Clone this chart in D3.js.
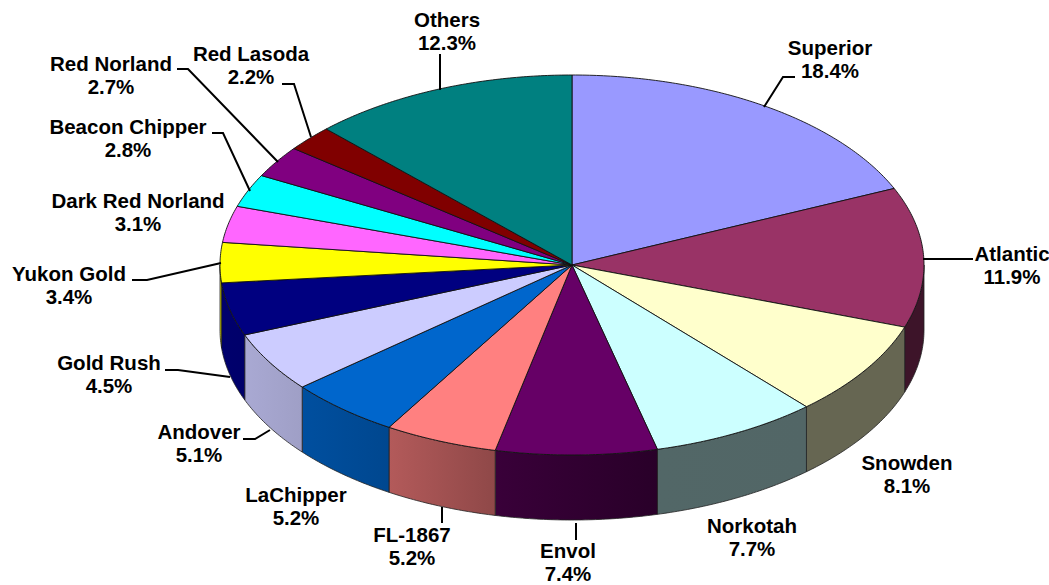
<!DOCTYPE html>
<html lang="en">
<head>
    <meta charset="utf-8">
    <title>Potato varieties</title>
    <script src="https://cdnjs.cloudflare.com/ajax/libs/d3/7.8.5/d3.min.js"></script>
    <style>
        html, body { margin: 0; padding: 0; background: #fff; }
        svg { display: block; }
        text { font-family: "Liberation Sans", Arial, sans-serif; font-weight: bold; font-size: 20.5px; fill: #000; text-anchor: middle; }
    </style>
</head>
<body>
    <svg width="1049" height="585"></svg>
    <script>
        var categories = ["Superior", "Atlantic", "Snowden", "Norkotah", "Envol", "FL-1867", "LaChipper", "Andover",
            "Gold Rush", "Yukon Gold", "Dark Red Norland", "Beacon Chipper", "Red Norland", "Red Lasoda", "Others"];
        var shares = [18.4, 11.9, 8.1, 7.7, 7.4, 5.2, 5.2, 5.1, 4.5, 3.4, 3.1, 2.8, 2.7, 2.2, 12.3];
        var colours = ["#9999ff", "#993366", "#ffffcc", "#ccffff", "#660066", "#ff8080", "#0066cc", "#ccccff",
            "#000080", "#ffff00", "#ff66ff", "#00ffff", "#800080", "#800000", "#008080"];

        // label centre [x, baseline of first line], in the same order as categories
        // Envol sits a little higher than the reference so its second line stays on the page
        var labelPos = [[830, 55], [1012, 261], [907, 470], [752, 533], [568, 558], [412, 542], [296, 502], [199, 439],
            [109, 370], [69, 281], [138, 208], [128, 134], [111, 71], [251, 61], [447, 27]];
        // leader lines, null where the label has none
        var leaders = [
            [[764, 107], [783, 77], [795, 77]],
            [[923, 259], [973, 259]],
            null,
            null,
            [[576, 523], [576, 540]],
            [[442, 507], [442, 523]],
            null,
            [[270, 430], [255, 439], [243, 439]],
            [[165, 370], [178, 370], [230, 377]],
            [[132, 280], [147, 280], [221, 263]],
            null,
            [[212, 133], [223, 133], [250, 191]],
            [[177, 69], [188, 69], [278, 162]],
            [[282, 84], [294, 84], [311, 137]],
            [[440, 54], [440, 90]]
        ];

        var cx = 572, cy = 265, rx = 352, ry = 190, depth = 65, lineGap = 22.5;

        var svg = d3.select("svg");
        var defs = svg.append("defs");

        var colour = d3.scaleOrdinal(categories, colours);
        // x and y take sin / cos of the pie angle
        var xScale = d3.scaleLinear().domain([-1, 1]).range([cx - rx, cx + rx]);
        var yScale = d3.scaleLinear().domain([-1, 1]).range([cy + ry, cy - ry]);
        // the side wall gets darker from left to right
        var wallShade = d3.scaleLinear()
            .domain([220, 300, 390, 495, 600, 660, 925])
            .range([0.85, 0.78, 0.70, 0.56, 0.46, 0.40, 0.40]);

        var pie = d3.pie().sort(null).value(function(d) { return d; });
        var arcs = pie(shares);

        function px(a) { return xScale(Math.sin(a)); }
        function py(a) { return yScale(Math.cos(a)); }

        function rimPoints(a0, a1) {
            var pts = [], n = Math.max(2, Math.ceil((a1 - a0) / 0.01));
            d3.range(n + 1).forEach(function(i) {
                var a = a0 + (a1 - a0) * i / n;
                pts.push([px(a), py(a)]);
            });
            return pts;
        }

        function dim(c, k) {
            var r = d3.rgb(c);
            return d3.rgb(r.r * k, r.g * k, r.b * k).formatHex();
        }

        var line = d3.line();

        // side walls, only the front half of the rim shows
        var walls = svg.append("g");
        arcs.forEach(function(d, i) {
            var a0 = Math.max(d.startAngle, Math.PI / 2),
                a1 = Math.min(d.endAngle, Math.PI * 1.5);
            if (a0 >= a1) return;
            var top = rimPoints(a0, a1);
            var bottom = top.map(function(p) { return [p[0], p[1] + depth]; }).reverse();
            var xl = d3.min(top, function(p) { return p[0]; }),
                xr = d3.max(top, function(p) { return p[0]; });
            var grad = defs.append("linearGradient")
                .attr("id", "wall" + i)
                .attr("gradientUnits", "userSpaceOnUse")
                .attr("x1", xl).attr("x2", xr).attr("y1", 0).attr("y2", 0);
            grad.append("stop").attr("offset", 0).attr("stop-color", dim(colour(categories[i]), wallShade(xl)));
            grad.append("stop").attr("offset", 1).attr("stop-color", dim(colour(categories[i]), wallShade(xr)));
            walls.append("path")
                .attr("d", line(top.concat(bottom)) + "Z")
                .attr("fill", "url(#wall" + i + ")")
                .attr("stroke", "#222")
                .attr("stroke-width", 0.8);
        });

        // top face
        svg.append("g").selectAll("path")
            .data(arcs)
            .enter().append("path")
            .attr("d", function(d) {
                return line([[cx, cy]].concat(rimPoints(d.startAngle, d.endAngle))) + "Z";
            })
            .attr("fill", function(d, i) { return colour(categories[i]); })
            .attr("stroke", "#111")
            .attr("stroke-width", 0.9)
            .attr("stroke-linejoin", "round");

        // leaders
        svg.append("g").selectAll("path")
            .data(leaders.filter(function(d) { return d; }))
            .enter().append("path")
            .attr("d", line)
            .attr("fill", "none")
            .attr("stroke", "#000")
            .attr("stroke-width", 2);

        // labels
        var labels = svg.append("g").selectAll("text")
            .data(categories)
            .enter().append("text")
            .attr("x", function(d, i) { return labelPos[i][0]; })
            .attr("y", function(d, i) { return labelPos[i][1]; });
        labels.append("tspan").text(function(d) { return d; });
        labels.append("tspan")
            .attr("x", function(d, i) { return labelPos[i][0]; })
            .attr("dy", lineGap)
            .text(function(d, i) { return d3.format(".1f")(shares[i]) + "%"; });
    </script>
</body>
</html>
